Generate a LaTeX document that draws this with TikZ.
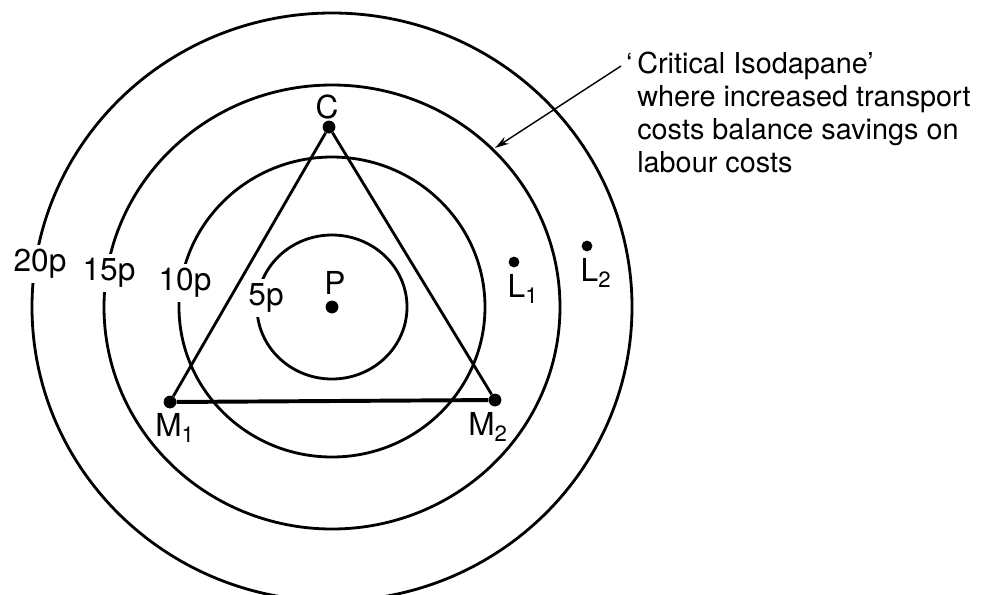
\documentclass[tikz,border=0pt]{standalone}
\usepackage{fontspec}
\setmainfont{TeX Gyre Heros}
\usetikzlibrary{arrows.meta}
\tikzset{
  isodapane/.style={draw=black, line width=2pt},
  site/.style={circle, fill=black, inner sep=0pt, minimum size=0.32cm},
  costlbl/.style={fill=white, inner sep=3pt, font=\fontsize{22.5}{25}\selectfont},
  sitelbl/.style={inner sep=0pt, font=\fontsize{22.5}{25}\selectfont},
}

\begin{document}
\begin{tikzpicture}[x=0.025cm, y=-0.025cm]
\useasboundingbox (0,0) rectangle (983,594);
\coordinate (o) at (332,307);

% isodapanes round P, 5p to 20p (scan is a little wider than tall)
\foreach \rx/\ry in {75/72, 153/150, 228/222, 300/294}
  \draw[isodapane] (o) ellipse [x radius=\rx, y radius=\ry];

% cost labels break their rings
\node[costlbl] (lbltwenty) at (40,264) {20p};
\node[costlbl] (lblfifteen) at (109,273) {15p};
\node[costlbl] (lblten) at (185,283) {10p};
\node[costlbl] (lblfive) at (266,298) {5p};

% locations
\node[site] (p) at (o) {};
\node[site] (c) at (329,127) {};
\node[site] (mone) at (170,402) {};
\node[site] (mtwo) at (495,400) {};
\node[site, minimum size=0.27cm] (lone) at (514,262) {};
\node[site, minimum size=0.27cm] (ltwo) at (587,246) {};

% locational triangle
\draw[line width=2pt] (c) -- (mone);
\draw[line width=2pt] (c) -- (mtwo);
\draw[line width=2.8pt] (mone) -- (mtwo);

\node[sitelbl] (clbl) at (327,107) {C};
\node[sitelbl] (plbl) at (335,283) {P};
\node[sitelbl] (monelbl) at (175,428) {M\textsubscript{1}};
\node[sitelbl] (mtwolbl) at (488,427) {M\textsubscript{2}};
\node[sitelbl] (lonelbl) at (523,289) {L\textsubscript{1}};
\node[sitelbl] (ltwolbl) at (596,273) {L\textsubscript{2}};

% note on the critical ring
\node[anchor=north west, inner sep=0pt, align=left,
  font=\fontsize{20.5}{23.5}\selectfont] (note) at (637,52)
  {\llap{‘\,}Critical Isodapane’\\where increased transport\\costs balance savings on\\labour costs};
\coordinate (notestart) at (621,66);
\coordinate (isotip) at (495,148);
\draw[line width=1pt, -{Stealth[length=0.35cm, width=0.2cm]}] (notestart) -- (isotip);
\end{tikzpicture}
\end{document}
